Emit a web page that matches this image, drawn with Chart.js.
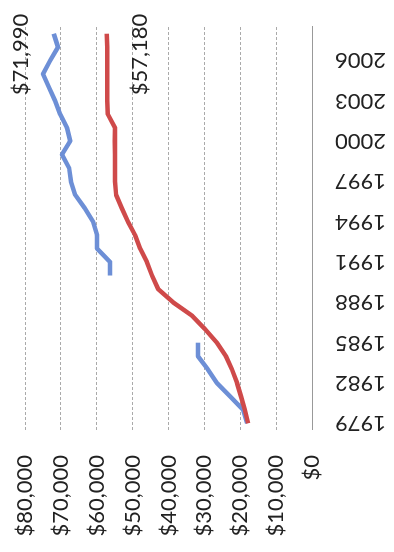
<!DOCTYPE html>
<html>
<head>
<meta charset="utf-8">
<script src="https://cdn.jsdelivr.net/npm/chart.js@4/dist/chart.umd.min.js"></script>
<style>
  html, body { margin: 0; padding: 0; background: #fff; }
  body { width: 394px; height: 552px; overflow: hidden; position: relative; }
  /* the chart is drawn upright, then turned a quarter turn counter-clockwise */
  #wrap {
    position: absolute; left: 0; top: 0;
    width: 552px; height: 394px;
    transform-origin: 0 0;
    transform: translate(0, 552px) rotate(-90deg);
  }
</style>
</head>
<body>
<div id="wrap"><canvas id="myChart" width="552" height="394"></canvas></div>
<script>
const years = ['1979','1980','1981','1982','1983','1984','1985','1986','1987','1988',
               '1989','1990','1991','1992','1993','1994','1995','1996','1997','1998',
               '1999','2000','2001','2002','2003','2004','2005','2006','2007','2008'];

const blueValues = [18100, 19200, 22800, 26500, 29000, 31800, 31800, null, null, null,
                    null, 56300, 56300, 59900, 59900, 61000, 63300, 66000, 67200, 67700,
                    69700, 67400, 68300, 70200, 71600, 73300, 75000, 73000, 70800, 71990];

const redValues = [17800, 18700, 19800, 20900, 22300, 24000, 26500, 29800, 33400, 38700,
                   42900, 44600, 46000, 47900, 49300, 51300, 53000, 54600, 54900, 54900,
                   54900, 55000, 54900, 56900, 57100, 57100, 57100, 57100, 57100, 57180];

const valueTicks = [0, 10000, 20000, 30000, 40000, 50000, 60000, 70000, 80000];

const FONT = 'Lato';
const money = v => '$' + v.toLocaleString('en-US');

// end-of-line value labels
const endLabels = {
    id: 'endLabels',
    afterDatasetsDraw(chart) {
        const ctx = chart.ctx;
        ctx.save();
        ctx.font = '22px ' + FONT;
        ctx.fillStyle = '#222';
        ctx.textAlign = 'right';
        ctx.textBaseline = 'middle';
        chart.data.datasets.forEach((ds, i) => {
            const pts = chart.getDatasetMeta(i).data;
            const last = ds.data.length - 1;
            const p = pts[last];
            const dy = ds.labelSide === 'above' ? -33 : 33;
            ctx.fillText(money(ds.data[last]), p.x + 20, p.y + dy);
        });
        ctx.restore();
    }
};

const ctx = document.getElementById('myChart').getContext('2d');
new Chart(ctx, {
    type: 'line',
    data: {
        labels: years,
        datasets: [
            {
                data: blueValues,
                borderColor: '#6d8fd6',
                borderWidth: 4.5,
                pointRadius: 0,
                spanGaps: false,
                borderJoinStyle: 'round',
                order: 2,
                labelSide: 'above'
            },
            {
                data: redValues,
                borderColor: '#cf4a4a',
                borderWidth: 4.5,
                pointRadius: 0,
                borderJoinStyle: 'round',
                order: 1,
                labelSide: 'below'
            }
        ]
    },
    options: {
        responsive: false,
        animation: false,
        layout: { padding: { left: 0, top: 25, right: 27, bottom: 0 } },
        plugins: {
            legend: { display: false },
            title: { display: false },
            tooltip: { enabled: false }
        },
        scales: {
            x: {
                offset: true,
                grid: { display: false },
                border: { display: true, color: '#999', width: 1 },
                ticks: {
                    autoSkip: false,
                    minRotation: 90,
                    maxRotation: 90,
                    padding: 15,
                    color: '#222',
                    font: { family: FONT, size: 22 },
                    callback: function(val, i) { return i % 3 === 0 ? years[i] : ''; }
                },
                afterFit: s => {
                    s.height = 82;
                    s.paddingLeft = 0;
                    s.paddingRight = 0;
                }
            },
            y: {
                min: 0,
                max: 80000,
                afterBuildTicks: s => { s.ticks = valueTicks.map(v => ({ value: v })); },
                grid: { color: '#aaa', lineWidth: 1, drawTicks: false },
                border: { display: false, dash: [3, 2] },
                ticks: {
                    padding: 25,
                    color: '#222',
                    font: { family: FONT, size: 22 },
                    callback: v => money(v)
                },
                afterFit: s => {
                    s.width = 122;
                    s.paddingTop = 0;
                    s.paddingBottom = 0;
                }
            }
        }
    },
    plugins: [endLabels]
});
</script>
</body>
</html>
